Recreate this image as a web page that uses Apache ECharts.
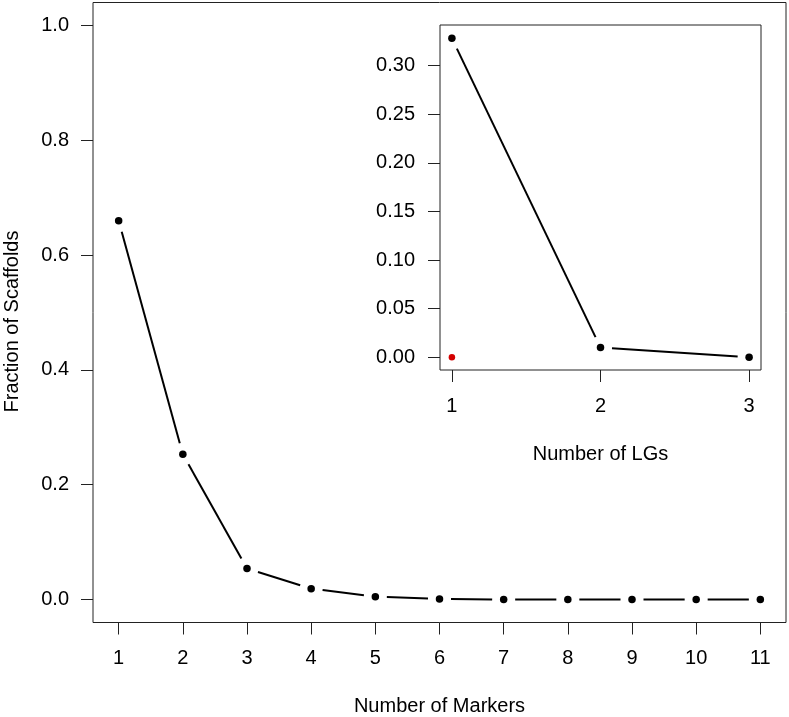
<!DOCTYPE html>
<html>
<head>
<meta charset="utf-8">
<script src="https://cdn.jsdelivr.net/npm/echarts@6/dist/echarts.min.js"></script>
<style>
html,body{margin:0;padding:0;background:#fff;}
#chart{width:789px;height:717px;}
</style>
</head>
<body>
<div id="chart"></div>
<script>
// ---- data ----
const markers = [1, 2, 3, 4, 5, 6, 7, 8, 9, 10, 11];
const fractionScaffolds = [0.660, 0.253, 0.054, 0.019, 0.005, 0.001, 0.0, 0.0, 0.0, 0.0, 0.0];
const lgs = [1, 2, 3];
const fractionLG = [0.328, 0.010, 0.0];
const redPoint = [1, 0.0];

const mainXTicks = [1, 2, 3, 4, 5, 6, 7, 8, 9, 10, 11];
const mainYTicks = [0, 0.2, 0.4, 0.6, 0.8, 1.0];
const insetXTicks = [1, 2, 3];
const insetYTicks = [0, 0.05, 0.10, 0.15, 0.20, 0.25, 0.30];

const mainXTitle = 'Number of Markers';
const mainYTitle = 'Fraction of Scaffolds';
const insetXTitle = 'Number of LGs';

// ---- helpers ----
const FONT = '"Liberation Sans", Arial, Helvetica, sans-serif';
const FS = 20;
const GAP = 11.5;
function pairs(xs, ys) {
  const out = [];
  for (let i = 0; i < xs.length - 1; i++) out.push([xs[i], ys[i], xs[i + 1], ys[i + 1]]);
  return out;
}
function points(xs, ys) { return xs.map((x, i) => [x, ys[i]]); }
function gappedSegment(params, api) {
  const p1 = api.coord([api.value(0), api.value(1)]);
  const p2 = api.coord([api.value(2), api.value(3)]);
  const dx = p2[0] - p1[0], dy = p2[1] - p1[1];
  const len = Math.sqrt(dx * dx + dy * dy);
  if (len <= 2 * GAP) return null;
  const ux = dx / len, uy = dy / len;
  return {
    type: 'line',
    shape: { x1: p1[0] + ux * GAP, y1: p1[1] + uy * GAP, x2: p2[0] - ux * GAP, y2: p2[1] - uy * GAP },
    style: { stroke: '#000', lineWidth: 2 }
  };
}
function axisCommon(ticks, digits, margin) {
  return {
    axisLine: { show: false, onZero: false },
    splitLine: { show: false },
    axisTick: { show: true, inside: false, length: 12, customValues: ticks, lineStyle: { color: '#222', width: 1 } },
    axisLabel: {
      customValues: ticks, margin: margin,
      formatter: v => Number(v).toFixed(digits),
      color: '#000', fontFamily: FONT, fontSize: FS
    },
    nameTextStyle: { color: '#000', fontFamily: FONT, fontSize: FS }
  };
}

const chart = echarts.init(document.getElementById('chart'), null, { renderer: 'canvas' });
const mainY = Object.assign(axisCommon(mainYTicks, 1, 24), {
  type: 'value', gridIndex: 0, min: -0.04, max: 1.04, position: 'left',
  name: mainYTitle, nameLocation: 'middle', nameGap: 71
});
mainY.nameTextStyle.padding = [0, 18, 0, 0];
const option = {
  animation: false,
  backgroundColor: '#fff',
  grid: [
    { left: 93, top: 2.5, width: 693, height: 620, outerBoundsMode: 'none', containLabel: false, show: true, borderColor: '#222', borderWidth: 1, backgroundColor: 'transparent' },
    { left: 440, top: 25, width: 321, height: 345, outerBoundsMode: 'none', containLabel: false, show: true, borderColor: '#222', borderWidth: 1, backgroundColor: '#fff' }
  ],
  xAxis: [
    Object.assign(axisCommon(mainXTicks, 0, 26), {
      type: 'value', gridIndex: 0, min: 0.6, max: 11.4, position: 'bottom',
      name: mainXTitle, nameLocation: 'middle', nameGap: 74
    }),
    Object.assign(axisCommon(insetXTicks, 0, 26), {
      type: 'value', gridIndex: 1, min: 0.92, max: 3.08, position: 'bottom',
      name: insetXTitle, nameLocation: 'middle', nameGap: 74
    })
  ],
  yAxis: [
    mainY,
    Object.assign(axisCommon(insetYTicks, 2, 25), {
      type: 'value', gridIndex: 1, min: -0.0131, max: 0.3417, position: 'left'
    })
  ],
  series: [
    {
      type: 'custom', xAxisIndex: 0, yAxisIndex: 0,
      dimensions: ['x1', 'y1', 'x2', 'y2'],
      encode: { x: [0, 2], y: [1, 3] },
      data: pairs(markers, fractionScaffolds), renderItem: gappedSegment, silent: true
    },
    {
      type: 'scatter', xAxisIndex: 0, yAxisIndex: 0,
      data: points(markers, fractionScaffolds), symbol: 'circle', symbolSize: 7.5,
      itemStyle: { color: '#000', opacity: 1 }, silent: true
    },
    {
      type: 'custom', xAxisIndex: 1, yAxisIndex: 1,
      dimensions: ['x1', 'y1', 'x2', 'y2'],
      encode: { x: [0, 2], y: [1, 3] },
      data: pairs(lgs, fractionLG), renderItem: gappedSegment, silent: true
    },
    {
      type: 'scatter', xAxisIndex: 1, yAxisIndex: 1,
      data: points(lgs, fractionLG), symbol: 'circle', symbolSize: 7.5,
      itemStyle: { color: '#000', opacity: 1 }, silent: true
    },
    {
      type: 'scatter', xAxisIndex: 1, yAxisIndex: 1,
      data: [redPoint], symbol: 'circle', symbolSize: 6.5,
      itemStyle: { color: '#d40000', opacity: 1 }, silent: true
    }
  ]
};
chart.setOption(option);
</script>
</body>
</html>
